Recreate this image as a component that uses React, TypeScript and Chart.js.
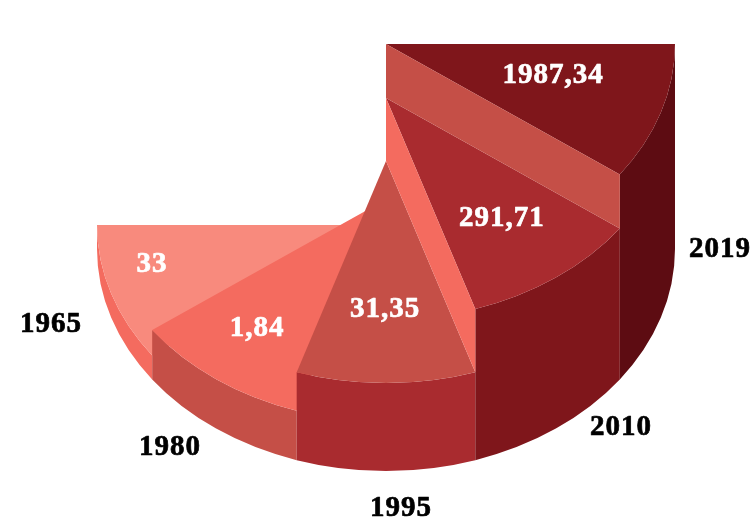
import React, { useEffect, useRef } from "react";
import { Chart, registerables } from "chart.js";

Chart.register(...registerables);

// Slices run clockwise from the right-hand edge of the half pie.
const categories = ["2019", "2010", "1995", "1980", "1965"];
const valueLabels = ["1987,34", "291,71", "31,35", "1,84", "33"];
const sliceShares = [1, 1, 1, 1, 1];
// Height of each extruded slice, as a percentage of the tallest one.
const sliceHeights = [100, 73.7, 42.9, 24.1, 11.7];

const topColors = ["#7f161b", "#a92b2f", "#c54f47", "#f46b5f", "#f88a7d"];
const sideColors = ["#5d0c12", "#7f161b", "#a92b2f", "#c54f47", "#f46b5f"];
const wallColors = ["#c54f47", "#f46b5f", "#f46b5f", "#f88a7d", "#f88a7d"];

// Label placement in units of the ellipse radii.
const valueLabelX = [0.578, 0.401, -0.003, -0.446, -0.81];
const valueLabelY = [0.144, 0.541, 0.667, 0.579, 0.18];
const categoryLabelX = [1.156, 0.813, 0.052, -0.747, -1.159];
const categoryLabelY = [0.004, 0.806, 1.167, 0.892, 0.338];

const TILT = 222 / 289;
const MAX_DEPTH = 205;
const FONT = "bold 29px 'Liberation Serif'";

const extrudedPie = {
  id: "extrudedPie",
  beforeDatasetDraw(chart: any, args: any) {
    const ctx = chart.ctx;
    const arcs = args.meta.data;
    const first = arcs[0];
    const cx = first.x;
    const baseY = first.y;
    const r = first.outerRadius;
    const ry = r * TILT;
    const groundY = baseY + MAX_DEPTH;
    const levelY = (i: number) => groundY - (sliceHeights[i] / 100) * MAX_DEPTH;

    for (let i = arcs.length - 1; i >= 0; i--) {
      const arc = arcs[i];
      const a0 = arc.startAngle;
      const a1 = arc.endAngle;
      const y = levelY(i);

      // outer rim
      ctx.beginPath();
      ctx.ellipse(cx, y, r, ry, 0, a0, a1);
      ctx.ellipse(cx, groundY, r, ry, 0, a1, a0, true);
      ctx.closePath();
      ctx.fillStyle = sideColors[i];
      ctx.fill();

      // top face: the library's own arc element, squashed into the tilt plane
      ctx.save();
      ctx.translate(cx, y);
      ctx.scale(1, TILT);
      ctx.translate(-cx, -baseY);
      arc.draw(ctx, chart.chartArea);
      ctx.restore();

      // radial wall, visible only where it faces the viewer and the next slice is lower
      if (i + 1 < arcs.length && Math.cos(a1) > 0) {
        const nextY = levelY(i + 1);
        const ex = cx + r * Math.cos(a1);
        const ey = ry * Math.sin(a1);
        ctx.beginPath();
        ctx.moveTo(cx, y);
        ctx.lineTo(ex, y + ey);
        ctx.lineTo(ex, nextY + ey);
        ctx.lineTo(cx, nextY);
        ctx.closePath();
        ctx.fillStyle = wallColors[i];
        ctx.fill();
      }
    }

    // text
    ctx.font = FONT;
    ctx.textAlign = "center";
    ctx.textBaseline = "middle";
    ctx.lineWidth = 0.7;
    ctx.lineJoin = "round";
    (ctx as any).letterSpacing = "1px";
    const put = (text: string, x: number, y: number, color: string) => {
      ctx.fillStyle = color;
      ctx.strokeStyle = color;
      ctx.fillText(text, x, y);
      ctx.strokeText(text, x, y);
    };
    arcs.forEach((_: any, i: number) => {
      put(valueLabels[i], cx + valueLabelX[i] * r, levelY(i) + valueLabelY[i] * ry, "#ffffff");
      put(categories[i], cx + categoryLabelX[i] * r, groundY + categoryLabelY[i] * ry, "#000000");
    });
    return false;
  },
};

export default function App() {
  const ref = useRef<HTMLCanvasElement | null>(null);
  useEffect(() => {
    const chart = new Chart(ref.current as HTMLCanvasElement, {
      type: "pie",
      data: {
        labels: categories,
        datasets: [
          {
            data: sliceShares,
            backgroundColor: topColors,
            borderWidth: 0,
          },
        ],
      },
      options: {
        animation: false,
        responsive: false,
        devicePixelRatio: 1,
        rotation: 90,
        circumference: 180,
        layout: { padding: { left: 97, right: 80, top: 44, bottom: 186 } },
        plugins: { legend: { display: false }, tooltip: { enabled: false } },
      },
      plugins: [extrudedPie],
    } as any);
    return () => chart.destroy();
  }, []);
  return (
    <div style={{ position: "absolute", left: 0, top: 0, width: 755, height: 519, background: "#fff" }}>
      <canvas ref={ref} width={755} height={519} style={{ display: "block" }} />
    </div>
  );
}
